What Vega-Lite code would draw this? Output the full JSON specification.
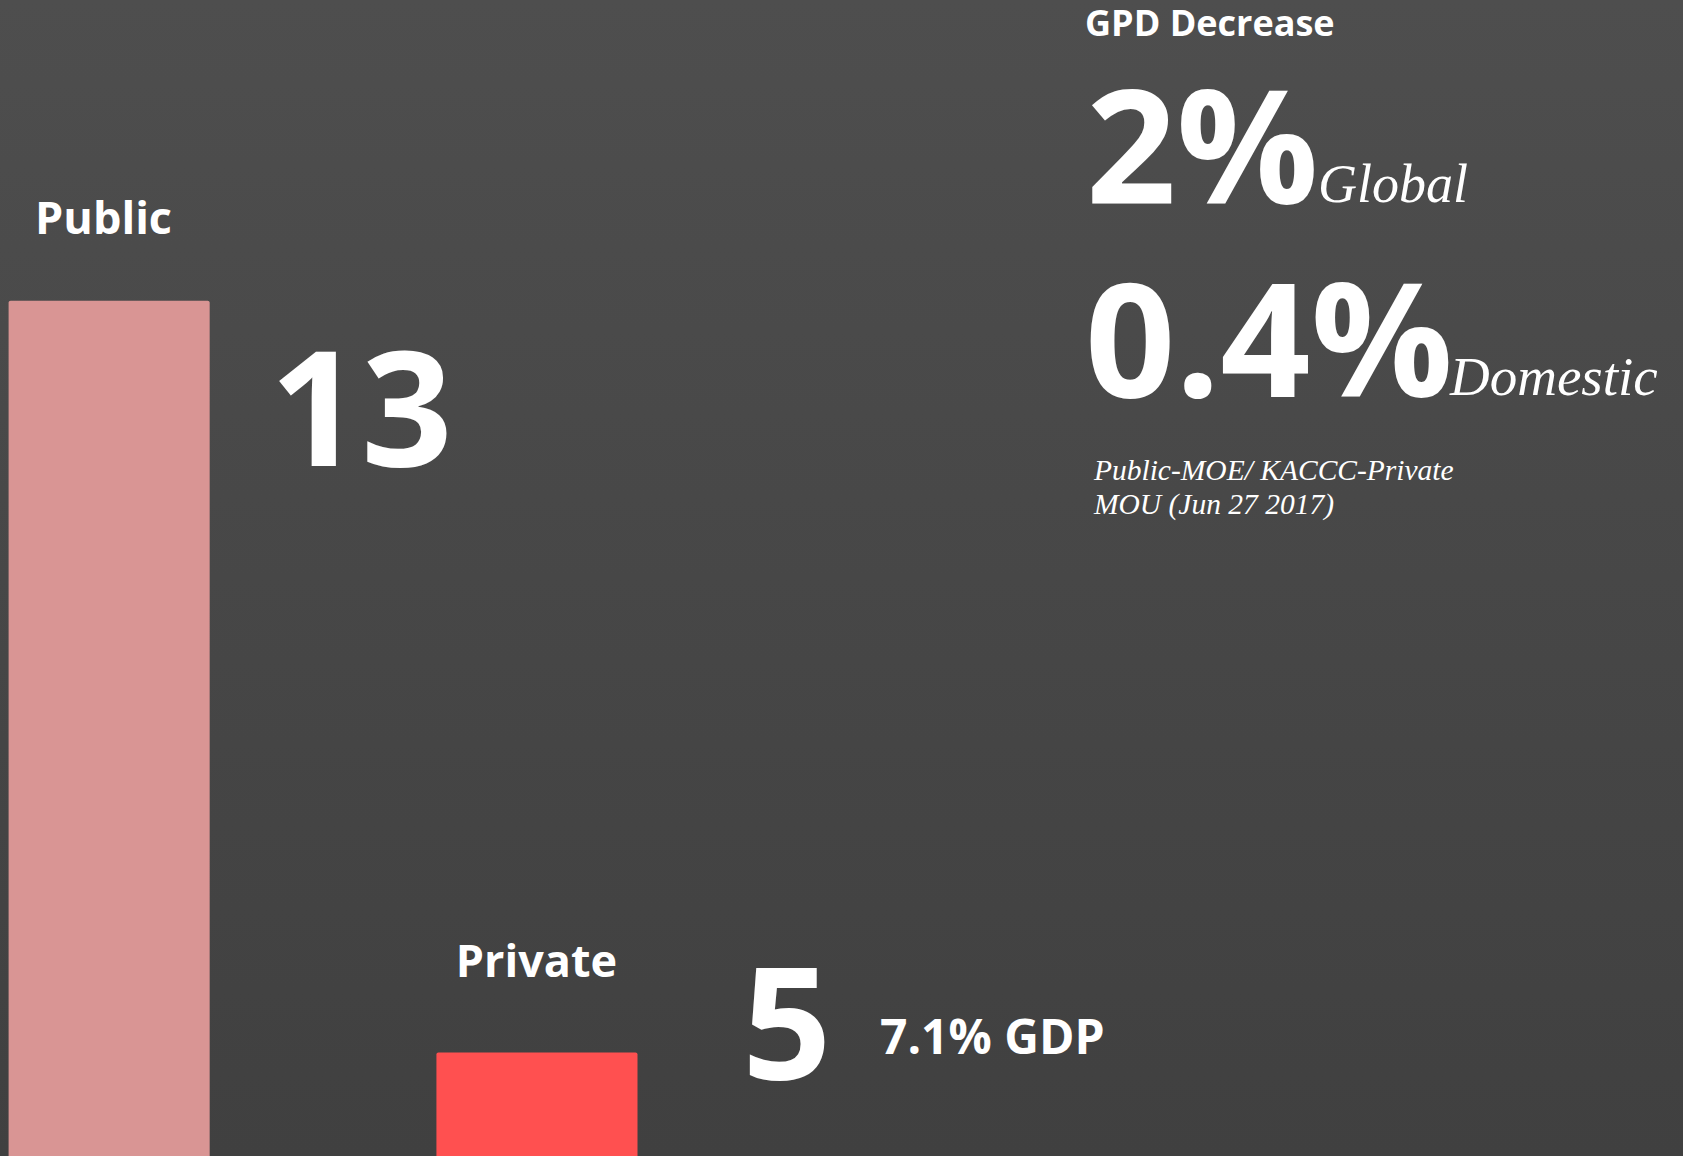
{
  "$schema": "https://vega.github.io/schema/vega-lite/v6.json",
  "width": 1683,
  "height": 1156,
  "autosize": "none",
  "padding": 0,
  "background": "#464646",
  "config": {"view": {"stroke": null}, "text": {"color": "#ffffff", "font": "Open Sans"}},
  "data": {"values": [{"category": "Public", "value": 13}, {"category": "Private", "value": 5}]},
  "layer": [
    {
      "data": {"values": [{}]},
      "mark": {"type": "rect", "color": {"gradient": "linear", "x1": 0, "y1": 0, "x2": 0, "y2": 1, "stops": [{"offset": 0, "color": "#4e4e4e"}, {"offset": 0.5, "color": "#474747"}, {"offset": 1, "color": "#404040"}]}},
      "encoding": {}
    },
    {
      "mark": {"type": "bar", "cornerRadiusTopLeft": 2, "cornerRadiusTopRight": 2},
      "encoding": {
        "x": {"field": "category", "type": "nominal", "axis": null, "scale": {"domain": ["Public", "Private"], "range": [8.6, 637.5], "paddingInner": 0.53, "paddingOuter": 0}},
        "y": {"field": "value", "type": "quantitative", "axis": null, "scale": {"domain": [3.9, 16.2], "zero": false, "nice": false}},
        "y2": {"datum": 3.9},
        "color": {"field": "category", "type": "nominal", "scale": {"domain": ["Public", "Private"], "range": ["#D99594", "#FF5050"]}, "legend": null}
      }
    },
    {
      "transform": [{"filter": "datum.category === 'Public'"}],
      "mark": {"type": "text", "align": "center", "baseline": "alphabetic", "fontSize": 45, "fontWeight": "bold", "dx": -5.6, "dy": -66.7},
      "encoding": {"x": {"field": "category", "type": "nominal"}, "y": {"field": "value", "type": "quantitative"}, "text": {"field": "category"}}
    },
    {
      "transform": [{"filter": "datum.category === 'Private'"}],
      "mark": {"type": "text", "align": "center", "baseline": "alphabetic", "fontSize": 45, "fontWeight": "bold", "dx": -0.5, "dy": -75.6},
      "encoding": {"x": {"field": "category", "type": "nominal"}, "y": {"field": "value", "type": "quantitative"}, "text": {"field": "category"}}
    },
    {
      "transform": [{"filter": "datum.category === 'Public'"}],
      "mark": {"type": "text", "align": "center", "baseline": "alphabetic", "fontSize": 160, "fontWeight": "bold", "dx": 252, "dy": 165},
      "encoding": {"x": {"field": "category", "type": "nominal"}, "y": {"field": "value", "type": "quantitative"}, "text": {"field": "value", "type": "quantitative"}}
    },
    {
      "transform": [{"filter": "datum.category === 'Private'"}],
      "mark": {"type": "text", "align": "center", "baseline": "alphabetic", "fontSize": 156, "fontWeight": "bold", "dx": 250, "dy": 26.4},
      "encoding": {"x": {"field": "category", "type": "nominal"}, "y": {"field": "value", "type": "quantitative"}, "text": {"field": "value", "type": "quantitative"}}
    },
    {
      "data": {"values": [{"label": "7.1% GDP"}]},
      "mark": {"type": "text", "align": "left", "baseline": "alphabetic", "fontSize": 48, "fontWeight": "bold", "dx": 343, "dy": 1.4},
      "encoding": {"x": {"datum": "Private", "type": "nominal"}, "y": {"datum": 5, "type": "quantitative"}, "text": {"field": "label"}}
    },
    {
      "data": {"values": [{"label": "GPD Decrease"}]},
      "mark": {"type": "text", "align": "left", "baseline": "alphabetic", "fontSize": 36, "fontWeight": "bold", "dx": 548, "dy": 36},
      "encoding": {"x": {"datum": "Private", "type": "nominal"}, "y": {"datum": 16.2, "type": "quantitative"}, "text": {"field": "label"}}
    },
    {
      "data": {"values": [{"label": "2%"}]},
      "mark": {"type": "text", "align": "left", "baseline": "alphabetic", "fontSize": 158, "fontWeight": "bold", "dx": 549, "dy": 204},
      "encoding": {"x": {"datum": "Private", "type": "nominal"}, "y": {"datum": 16.2, "type": "quantitative"}, "text": {"field": "label"}}
    },
    {
      "data": {"values": [{"label": "Global"}]},
      "mark": {"type": "text", "align": "left", "baseline": "alphabetic", "font": "Liberation Serif", "fontStyle": "italic", "fontSize": 54, "dx": 781, "dy": 202},
      "encoding": {"x": {"datum": "Private", "type": "nominal"}, "y": {"datum": 16.2, "type": "quantitative"}, "text": {"field": "label"}}
    },
    {
      "data": {"values": [{"label": "0.4%"}]},
      "mark": {"type": "text", "align": "left", "baseline": "alphabetic", "fontSize": 158, "fontWeight": "bold", "dx": 548, "dy": 397},
      "encoding": {"x": {"datum": "Private", "type": "nominal"}, "y": {"datum": 16.2, "type": "quantitative"}, "text": {"field": "label"}}
    },
    {
      "data": {"values": [{"label": "Domestic"}]},
      "mark": {"type": "text", "align": "left", "baseline": "alphabetic", "font": "Liberation Serif", "fontStyle": "italic", "fontSize": 55, "dx": 913, "dy": 395},
      "encoding": {"x": {"datum": "Private", "type": "nominal"}, "y": {"datum": 16.2, "type": "quantitative"}, "text": {"field": "label"}}
    },
    {
      "data": {"values": [{"label": "Public-MOE/ KACCC-Private"}]},
      "mark": {"type": "text", "align": "left", "baseline": "alphabetic", "font": "Liberation Serif", "fontStyle": "italic", "fontSize": 29.5, "dx": 557, "dy": 480},
      "encoding": {"x": {"datum": "Private", "type": "nominal"}, "y": {"datum": 16.2, "type": "quantitative"}, "text": {"field": "label"}}
    },
    {
      "data": {"values": [{"label": "MOU (Jun 27 2017)"}]},
      "mark": {"type": "text", "align": "left", "baseline": "alphabetic", "font": "Liberation Serif", "fontStyle": "italic", "fontSize": 29.5, "dx": 557, "dy": 514},
      "encoding": {"x": {"datum": "Private", "type": "nominal"}, "y": {"datum": 16.2, "type": "quantitative"}, "text": {"field": "label"}}
    }
  ]
}
